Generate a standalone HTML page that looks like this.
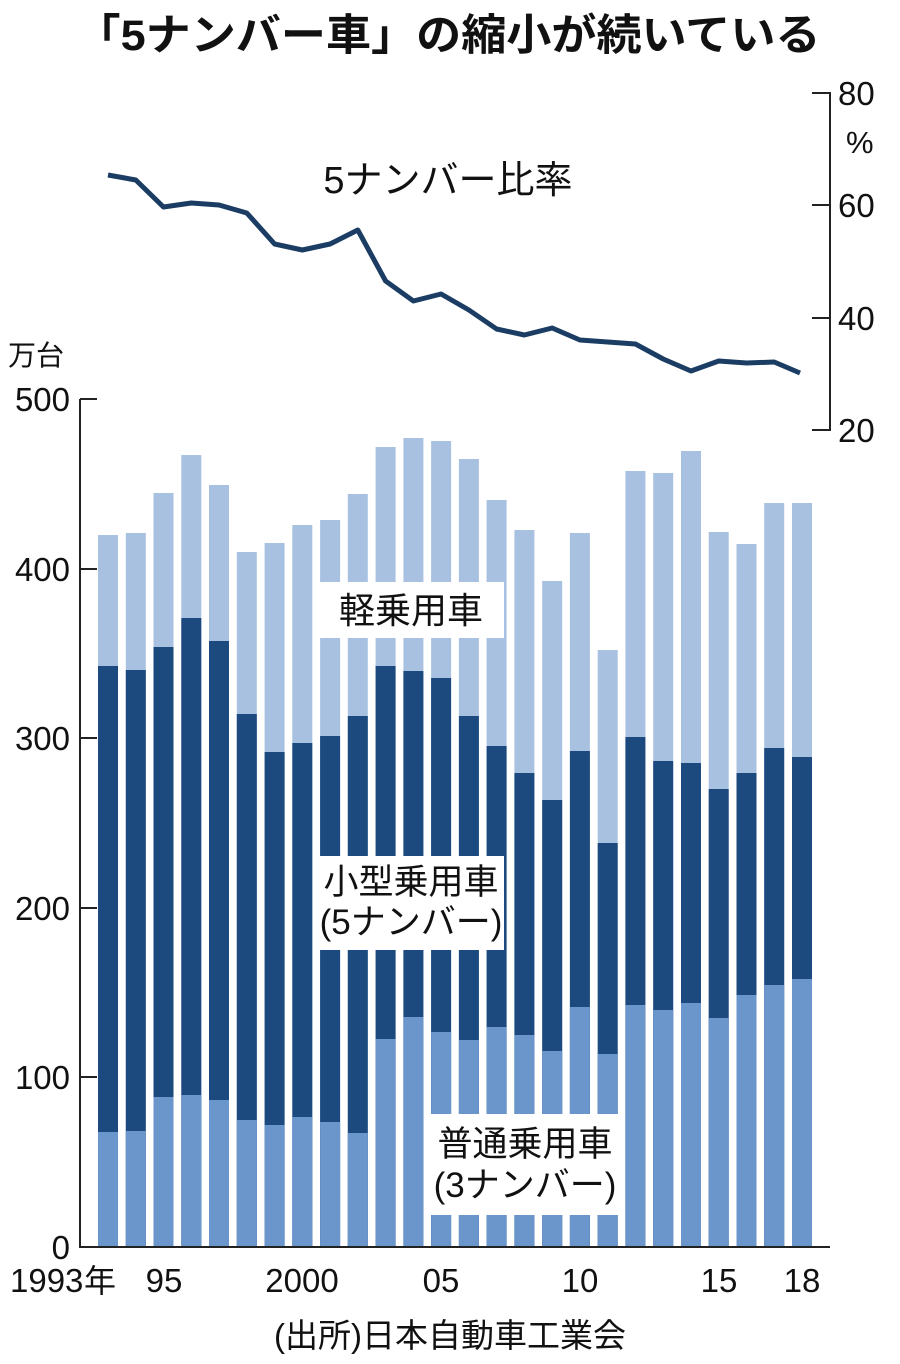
<!DOCTYPE html>
<html><head><meta charset="utf-8"><style>
body{margin:0;background:#fff}
svg{display:block}
text{font-family:"Liberation Sans Narrow","Liberation Sans","Noto Sans CJK JP",sans-serif;fill:#111}
.j{font-family:"Liberation Sans","Noto Sans CJK JP",sans-serif}
</style></head><body>
<svg width="900" height="1364" viewBox="0 0 900 1364">
<text x="448" y="50" text-anchor="middle" class="j" font-size="43" font-weight="bold" textLength="745" lengthAdjust="spacingAndGlyphs">「5ナンバー車」の縮小が続いている</text>
<g fill="#a9c1e1">
<rect x="98" y="535" width="20" height="712"/><rect x="125.8" y="533" width="20" height="714"/><rect x="153.5" y="493" width="20" height="754"/><rect x="181.3" y="455" width="20" height="792"/><rect x="209" y="485" width="20" height="762"/><rect x="236.8" y="552" width="20" height="695"/><rect x="264.6" y="543" width="20" height="704"/><rect x="292.3" y="525" width="20" height="722"/><rect x="320.1" y="520" width="20" height="727"/><rect x="347.8" y="494" width="20" height="753"/><rect x="375.6" y="447" width="20" height="800"/><rect x="403.4" y="438" width="20" height="809"/><rect x="431.1" y="441" width="20" height="806"/><rect x="458.9" y="459" width="20" height="788"/><rect x="486.6" y="500" width="20" height="747"/><rect x="514.4" y="530" width="20" height="717"/><rect x="542.2" y="581" width="20" height="666"/><rect x="569.9" y="533" width="20" height="714"/><rect x="597.7" y="650" width="20" height="597"/><rect x="625.4" y="471" width="20" height="776"/><rect x="653.2" y="473" width="20" height="774"/><rect x="681" y="451" width="20" height="796"/><rect x="708.7" y="532" width="20" height="715"/><rect x="736.5" y="544" width="20" height="703"/><rect x="764.2" y="503" width="20" height="744"/><rect x="792" y="503" width="20" height="744"/>
</g>
<g fill="#1c4a7e">
<rect x="98" y="666" width="20" height="581"/><rect x="125.8" y="670" width="20" height="577"/><rect x="153.5" y="647" width="20" height="600"/><rect x="181.3" y="618" width="20" height="629"/><rect x="209" y="641" width="20" height="606"/><rect x="236.8" y="714" width="20" height="533"/><rect x="264.6" y="752" width="20" height="495"/><rect x="292.3" y="743" width="20" height="504"/><rect x="320.1" y="736" width="20" height="511"/><rect x="347.8" y="716" width="20" height="531"/><rect x="375.6" y="666" width="20" height="581"/><rect x="403.4" y="671" width="20" height="576"/><rect x="431.1" y="678" width="20" height="569"/><rect x="458.9" y="716" width="20" height="531"/><rect x="486.6" y="746" width="20" height="501"/><rect x="514.4" y="773" width="20" height="474"/><rect x="542.2" y="800" width="20" height="447"/><rect x="569.9" y="751" width="20" height="496"/><rect x="597.7" y="843" width="20" height="404"/><rect x="625.4" y="737" width="20" height="510"/><rect x="653.2" y="761" width="20" height="486"/><rect x="681" y="763" width="20" height="484"/><rect x="708.7" y="789" width="20" height="458"/><rect x="736.5" y="773" width="20" height="474"/><rect x="764.2" y="748" width="20" height="499"/><rect x="792" y="757" width="20" height="490"/>
</g>
<g fill="#6a96cc">
<rect x="98" y="1132" width="20" height="115"/><rect x="125.8" y="1131" width="20" height="116"/><rect x="153.5" y="1097" width="20" height="150"/><rect x="181.3" y="1095" width="20" height="152"/><rect x="209" y="1100" width="20" height="147"/><rect x="236.8" y="1120" width="20" height="127"/><rect x="264.6" y="1125" width="20" height="122"/><rect x="292.3" y="1117" width="20" height="130"/><rect x="320.1" y="1122" width="20" height="125"/><rect x="347.8" y="1133" width="20" height="114"/><rect x="375.6" y="1039" width="20" height="208"/><rect x="403.4" y="1017" width="20" height="230"/><rect x="431.1" y="1032" width="20" height="215"/><rect x="458.9" y="1040" width="20" height="207"/><rect x="486.6" y="1027" width="20" height="220"/><rect x="514.4" y="1035" width="20" height="212"/><rect x="542.2" y="1051" width="20" height="196"/><rect x="569.9" y="1007" width="20" height="240"/><rect x="597.7" y="1054" width="20" height="193"/><rect x="625.4" y="1005" width="20" height="242"/><rect x="653.2" y="1010" width="20" height="237"/><rect x="681" y="1003" width="20" height="244"/><rect x="708.7" y="1018" width="20" height="229"/><rect x="736.5" y="995" width="20" height="252"/><rect x="764.2" y="985" width="20" height="262"/><rect x="792" y="979" width="20" height="268"/>
</g>
<g fill="#fff">
<rect x="318" y="582" width="186" height="56"/>
<rect x="318" y="856" width="186" height="94"/>
<rect x="428" y="1114" width="194" height="101"/>
</g>
<text x="411" y="623" text-anchor="middle" class="j" font-size="36">軽乗用車</text>
<text x="411" y="894" text-anchor="middle" class="j" font-size="35">小型乗用車</text>
<text x="411" y="934" text-anchor="middle" class="j" font-size="35">(5ナンバー)</text>
<text x="525" y="1156" text-anchor="middle" class="j" font-size="35">普通乗用車</text>
<text x="525" y="1197" text-anchor="middle" class="j" font-size="35">(3ナンバー)</text>
<polyline fill="none" stroke="#1b3d63" stroke-width="5" stroke-linejoin="round" points="108,175 135.8,180 163.5,207 191.3,203 219,205 246.8,213 274.6,244 302.3,250 330.1,244 357.8,230 385.6,281 413.4,301 441.1,294 468.9,310 496.6,329 524.4,335 552.2,328 579.9,340 607.7,342 635.4,344 663.2,359 691,371 718.7,361 746.5,363 774.2,362 800,373"/>
<text x="448" y="193" text-anchor="middle" class="j" font-size="38">5ナンバー比率</text>
<g stroke="#222" stroke-width="2" fill="none">
<path d="M80,399V1247H830M80,399H97M80,569H97M80,738H97M80,908H97M80,1077H97"/>
<path d="M812,93H830V430H812M812,205H830M812,318H830"/>
</g>
<g font-size="33" text-anchor="end">
<text x="70" y="411">500</text><text x="70" y="581">400</text><text x="70" y="750">300</text><text x="70" y="920">200</text><text x="70" y="1089">100</text><text x="70" y="1259">0</text>
</g>
<text x="8" y="365" class="j" font-size="28">万台</text>
<g font-size="33">
<text x="838" y="105">80</text><text x="846" y="153" font-size="31">%</text><text x="838" y="217">60</text><text x="838" y="330">40</text><text x="838" y="442">20</text>
</g>
<g font-size="33">
<text x="10" y="1292">1993</text><text x="84" y="1292" class="j" font-size="32">年</text>
<text x="164" y="1292" text-anchor="middle">95</text>
<text x="302" y="1292" text-anchor="middle">2000</text>
<text x="441" y="1292" text-anchor="middle">05</text>
<text x="580" y="1292" text-anchor="middle">10</text>
<text x="719" y="1292" text-anchor="middle">15</text>
<text x="802" y="1292" text-anchor="middle">18</text>
</g>
<text x="450" y="1347" text-anchor="middle" class="j" font-size="33">(出所)日本自動車工業会</text>
</svg>
</body></html>
